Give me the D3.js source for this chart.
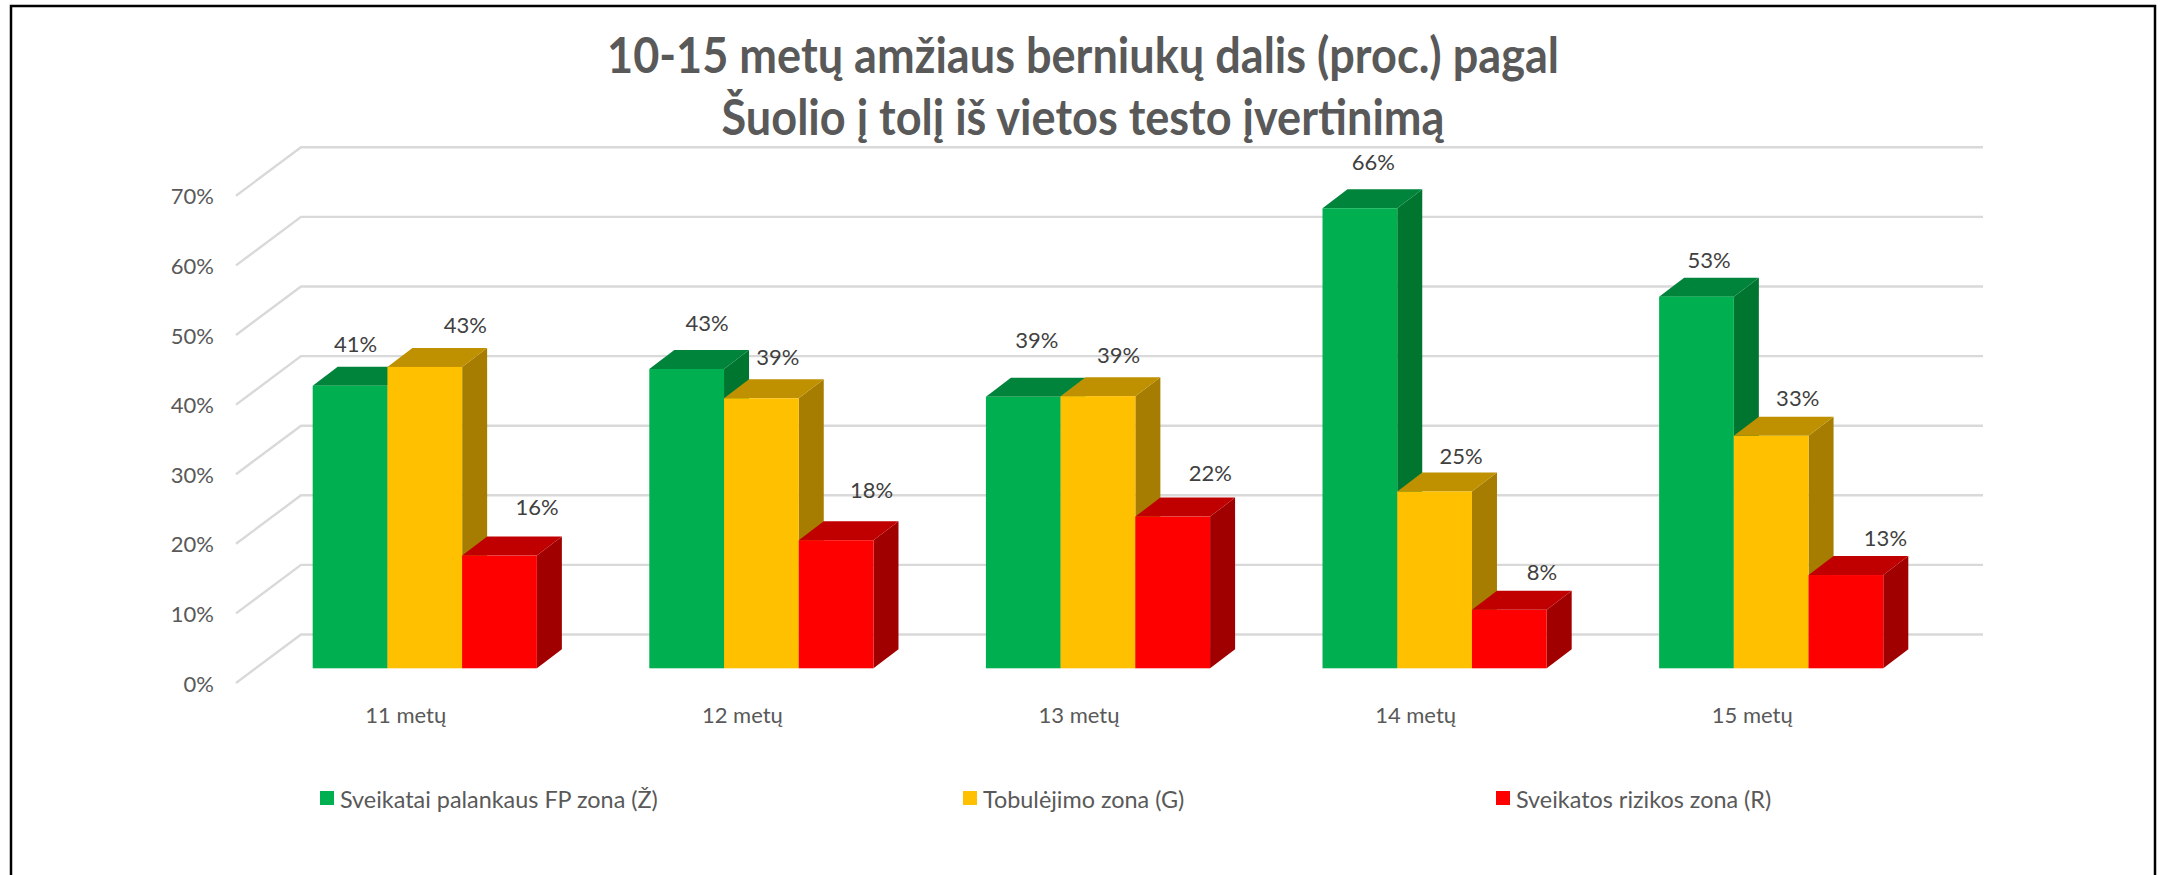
<!DOCTYPE html>
<html>
<head>
<meta charset="utf-8">
<script src="https://cdn.jsdelivr.net/npm/d3@7"></script>
<style>
  html, body { margin: 0; padding: 0; background: #fff; }
  svg { display: block; font-family: Lato, sans-serif; }
</style>
</head>
<body>
<div id="chart"></div>
<script>
var titleLines = ["10-15 metų amžiaus berniukų dalis (proc.) pagal", "Šuolio į tolį iš vietos testo įvertinimą"];
var categories = ["11 metų", "12 metų", "13 metų", "14 metų", "15 metų"];
var seriesNames = ["Sveikatai palankaus FP zona (Ž)", "Tobulėjimo zona (G)", "Sveikatos rizikos zona (R)"];
var zoneGreen = [40.6, 43.0, 39.0, 66.1, 53.4];
var zoneYellow = [43.3, 38.8, 39.1, 25.4, 33.4];
var zoneRed = [16.2, 18.4, 21.8, 8.4, 13.4];
var yTicks = [0, 10, 20, 30, 40, 50, 60, 70];

var width = 2160, height = 875;

// front face, top and side colour of each series
var colors = [
    { front: "#00B050", top: "#00843C", side: "#00752F" },
    { front: "#FFC000", top: "#BF9000", side: "#A67D00" },
    { front: "#FF0000", top: "#C00000", side: "#A00000" }
];
var allSeries = [zoneGreen, zoneYellow, zoneRed];

var svg = d3.select("#chart").append("svg")
    .attr("width", width)
    .attr("height", height);

// frame, no line at the bottom
svg.append("path")
    .attr("d", d3.line()([[11, height], [11, 6], [2155, 6], [2155, height]]))
    .attr("fill", "none")
    .attr("stroke", "#000")
    .attr("stroke-width", 2.5);

// title font in the source is narrower than Lato, so squeeze it a bit
svg.append("g")
    .selectAll("text")
    .data(titleLines)
    .enter()
    .append("text")
    .attr("transform", function (d, i) { return "translate(1083," + (73 + i * 62) + ") scale(0.92,1)"; })
    .attr("text-anchor", "middle")
    .attr("font-size", 49)
    .attr("font-weight", 700)
    .attr("fill", "#595959")
    .text(function (d) { return d; });

/* three y positions: front edge of floor (axis), bars, and back wall */
var pxPerUnit = 6.96;
var yAxisScale = d3.scaleLinear().domain([0, 70]).range([683, 683 - 70 * pxPerUnit]);
var yBar = d3.scaleLinear().domain([0, 70]).range([668.3, 668.3 - 70 * pxPerUnit]);
var yWall = d3.scaleLinear().domain([0, 70]).range([634.5, 634.5 - 70 * pxPerUnit]);

var x0 = d3.scaleBand().domain(categories).range([312.7, 1883.3]).paddingInner(0.334).paddingOuter(0);
var x1 = d3.scaleBand().domain(d3.range(3)).range([0, x0.bandwidth()]);

var depthX = 25, depthY = 19;

var grid = svg.append("g")
    .attr("fill", "none")
    .attr("stroke", "#D9D9D9")
    .attr("stroke-width", 2.4);

grid.selectAll("path")
    .data(yTicks)
    .enter()
    .append("path")
    .attr("d", function (d) {
        return d3.line()([[236, yAxisScale(d)], [301, yWall(d)], [1983, yWall(d)]]);
    });

var yAxis = d3.axisLeft(yAxisScale)
    .tickValues(yTicks)
    .tickSize(0)
    .tickPadding(22)
    .tickFormat(function (d) { return d + "%"; });

var axisG = svg.append("g")
    .attr("transform", "translate(236,1)")
    .call(yAxis);
axisG.select(".domain").remove();
axisG.selectAll("text")
    .attr("font-family", "Lato, sans-serif")
    .attr("font-size", 22)
    .attr("fill", "#595959");

/* bars */
var groups = svg.selectAll("g.group")
    .data(categories)
    .enter()
    .append("g")
    .attr("class", "group")
    .attr("transform", function (d) { return "translate(" + x0(d) + ",0)"; });

var cells = groups.selectAll("g.cell")
    .data(function (d, i) {
        return allSeries.map(function (s, j) { return { j: j, value: s[i] }; });
    })
    .enter()
    .append("g")
    .attr("class", "cell");

cells.append("path") // side
    .attr("fill", function (d) { return colors[d.j].side; })
    .attr("d", function (d) {
        var r = x1(d.j) + x1.bandwidth(), t = yBar(d.value), b = yBar(0);
        return d3.line()([[r, t], [r + depthX, t - depthY], [r + depthX, b - depthY], [r, b]]) + "Z";
    });

cells.append("path") // top
    .attr("fill", function (d) { return colors[d.j].top; })
    .attr("d", function (d) {
        var l = x1(d.j), r = l + x1.bandwidth(), t = yBar(d.value);
        return d3.line()([[l, t], [l + depthX, t - depthY], [r + depthX, t - depthY], [r, t]]) + "Z";
    });

cells.append("rect") // front
    .attr("x", function (d) { return x1(d.j); })
    .attr("y", function (d) { return yBar(d.value); })
    .attr("width", x1.bandwidth())
    .attr("height", function (d) { return yBar(0) - yBar(d.value); })
    .attr("fill", function (d) { return colors[d.j].front; });

/* the labels were dragged by hand in the original, so each has its own nudge */
var labelNudge = [
    [[-7, -22], [28, -23], [25, -29]],
    [[8, -27], [4, -22], [23, -31]],
    [[1, -38], [8, -22], [25, -24]],
    [[1, -27], [14, -16], [20, -19]],
    [[0, -17], [14, -19], [27, -18]]
];

groups.each(function (cat, i) {
    d3.select(this).selectAll("text.val")
        .data(allSeries.map(function (s, j) { return { j: j, value: s[i] }; }))
        .enter()
        .append("text")
        .attr("class", "val")
        .attr("x", function (d) { return x1(d.j) + x1.bandwidth() / 2 + depthX / 2 + labelNudge[i][d.j][0]; })
        .attr("y", function (d) { return yBar(d.value) - depthY + labelNudge[i][d.j][1]; })
        .attr("dy", "0.35em")
        .attr("text-anchor", "middle")
        .attr("font-size", 22)
        .attr("fill", "#404040")
        .text(function (d) { return d3.format(".0f")(d.value) + "%"; });
});

/* category labels sit left of the group centre, as in the source */
svg.append("g")
    .selectAll("text")
    .data(categories)
    .enter()
    .append("text")
    .attr("x", function (d) { return x0(d) + x0.bandwidth() / 2 - 19; })
    .attr("y", 715)
    .attr("dy", "0.35em")
    .attr("text-anchor", "middle")
    .attr("font-size", 22)
    .attr("fill", "#595959")
    .text(function (d) { return d; });

/* legend */
var legendX = d3.scaleOrdinal().domain(seriesNames).range([320, 963, 1496]);

var legend = svg.selectAll("g.legend")
    .data(seriesNames)
    .enter()
    .append("g")
    .attr("class", "legend")
    .attr("transform", function (d) { return "translate(" + legendX(d) + ",798)"; });

legend.append("rect")
    .attr("y", -7)
    .attr("width", 14)
    .attr("height", 14)
    .attr("fill", function (d, i) { return colors[i].front; });

legend.append("text")
    .attr("x", 20)
    .attr("y", 2)
    .attr("dy", "0.35em")
    .attr("font-size", 23.4)
    .attr("fill", "#595959")
    .text(function (d) { return d; });
</script>
</body>
</html>
